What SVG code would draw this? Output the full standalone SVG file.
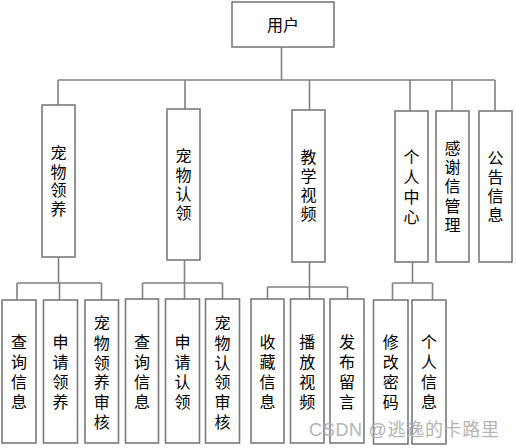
<svg xmlns="http://www.w3.org/2000/svg" width="516" height="448" viewBox="0 0 516 448">
<style>
.box{fill:#fff;stroke:#7a7a7a;stroke-width:1.6}
.ln{fill:none;stroke:#808080;stroke-width:1.6}
text{font-family:"Noto Sans CJK SC","Noto Sans",sans-serif;font-size:16px;fill:#000;text-anchor:middle}
.wm{font-family:"Liberation Sans","Noto Sans CJK SC",sans-serif;font-size:18px;fill:#b4b4b4;text-anchor:start}
</style>
<rect width="516" height="448" fill="#fff"/>
<g id="connectors">
<path class="ln" d="M281.5 47V80M58 80H495M58 80V105M185 80V109M309.5 80V110M410 80V111M452 80V111M495 80V111"/>
<path class="ln" d="M58.5 257V283M17 283H101.5M17 283V300M59.5 283V300M101.5 283V300"/>
<path class="ln" d="M184.5 260V283M142.5 283H222.5M142.5 283V299M184.5 283V299M222.5 283V299"/>
<path class="ln" d="M309.5 262V287M267.5 287H347.5M267.5 287V299M309.5 287V299M347.5 287V299"/>
<path class="ln" d="M412.5 262V283M392.5 283H432.5M392.5 283V300M432.5 283V300"/>
</g>
<g id="n-user"><rect class="box" x="232" y="2" width="102" height="45"/><text x="283" y="31">用户</text></g>
<g id="n-adopt"><rect class="box" x="42" y="105" width="33" height="152"/><text x="58.5"><tspan x="58.5" y="159">宠</tspan><tspan x="58.5" y="177.5">物</tspan><tspan x="58.5" y="196">领</tspan><tspan x="58.5" y="214.5">养</tspan></text></g>
<g id="n-claim"><rect class="box" x="167" y="109" width="33" height="151"/><text><tspan x="183.5" y="162">宠</tspan><tspan x="183.5" y="181">物</tspan><tspan x="183.5" y="200">认</tspan><tspan x="183.5" y="219">领</tspan></text></g>
<g id="n-video"><rect class="box" x="292" y="110" width="33" height="152"/><text><tspan x="308.5" y="163">教</tspan><tspan x="308.5" y="182">学</tspan><tspan x="308.5" y="201">视</tspan><tspan x="308.5" y="220">频</tspan></text></g>
<g id="n-center"><rect class="box" x="395" y="111" width="33" height="151"/><text><tspan x="411.5" y="162.5">个</tspan><tspan x="411.5" y="182.5">人</tspan><tspan x="411.5" y="202.5">中</tspan><tspan x="411.5" y="222.5">心</tspan></text></g>
<g id="n-thanks"><rect class="box" x="436" y="111" width="33" height="151"/><text><tspan x="452.5" y="154">感</tspan><tspan x="452.5" y="173.2">谢</tspan><tspan x="452.5" y="192.4">信</tspan><tspan x="452.5" y="211.6">管</tspan><tspan x="452.5" y="230.8">理</tspan></text></g>
<g id="n-notice"><rect class="box" x="479" y="111" width="33" height="151"/><text><tspan x="495.5" y="164">公</tspan><tspan x="495.5" y="183">告</tspan><tspan x="495.5" y="202">信</tspan><tspan x="495.5" y="221">息</tspan></text></g>

<g id="n-a1"><rect class="box" x="2" y="300" width="34" height="143"/><text><tspan x="19" y="348">查</tspan><tspan x="19" y="368">询</tspan><tspan x="19" y="388">信</tspan><tspan x="19" y="408">息</tspan></text></g>
<g id="n-a2"><rect class="box" x="43.5" y="300" width="34" height="143"/><text><tspan x="60.5" y="348">申</tspan><tspan x="60.5" y="368">请</tspan><tspan x="60.5" y="388">领</tspan><tspan x="60.5" y="408">养</tspan></text></g>
<g id="n-a3"><rect class="box" x="85" y="300" width="33.5" height="143"/><text><tspan x="101.7" y="329">宠</tspan><tspan x="101.7" y="348.8">物</tspan><tspan x="101.7" y="368.6">领</tspan><tspan x="101.7" y="388.4">养</tspan><tspan x="101.7" y="408.2">审</tspan><tspan x="101.7" y="428">核</tspan></text></g>

<g id="n-c1"><rect class="box" x="125.5" y="299" width="33" height="144"/><text><tspan x="142" y="348">查</tspan><tspan x="142" y="368">询</tspan><tspan x="142" y="388">信</tspan><tspan x="142" y="408">息</tspan></text></g>
<g id="n-c2"><rect class="box" x="165.5" y="299" width="34" height="144"/><text><tspan x="182.5" y="348">申</tspan><tspan x="182.5" y="368">请</tspan><tspan x="182.5" y="388">认</tspan><tspan x="182.5" y="408">领</tspan></text></g>
<g id="n-c3"><rect class="box" x="205.5" y="299" width="34" height="144"/><text><tspan x="222.5" y="329">宠</tspan><tspan x="222.5" y="348.8">物</tspan><tspan x="222.5" y="368.6">认</tspan><tspan x="222.5" y="388.4">领</tspan><tspan x="222.5" y="408.2">审</tspan><tspan x="222.5" y="428">核</tspan></text></g>

<g id="n-v1"><rect class="box" x="251" y="299" width="33" height="144"/><text><tspan x="267.5" y="348">收</tspan><tspan x="267.5" y="368">藏</tspan><tspan x="267.5" y="388">信</tspan><tspan x="267.5" y="408">息</tspan></text></g>
<g id="n-v2"><rect class="box" x="290.5" y="299" width="33.5" height="144"/><text><tspan x="307.3" y="348">播</tspan><tspan x="307.3" y="368">放</tspan><tspan x="307.3" y="388">视</tspan><tspan x="307.3" y="408">频</tspan></text></g>
<g id="n-v3"><rect class="box" x="330" y="299" width="34" height="144"/><text><tspan x="347" y="348">发</tspan><tspan x="347" y="368">布</tspan><tspan x="347" y="388">留</tspan><tspan x="347" y="408">言</tspan></text></g>

<g id="n-p1"><rect class="box" x="373.5" y="300" width="34.5" height="144"/><text><tspan x="390.7" y="348">修</tspan><tspan x="390.7" y="368">改</tspan><tspan x="390.7" y="388">密</tspan><tspan x="390.7" y="408">码</tspan></text></g>
<g id="n-p2"><rect class="box" x="412" y="300" width="34" height="144"/><text><tspan x="429" y="348">个</tspan><tspan x="429" y="368">人</tspan><tspan x="429" y="388">信</tspan><tspan x="429" y="408">息</tspan></text></g>

<text class="wm" x="309" y="436" textLength="190">CSDN @逃逸的卡路里</text>
</svg>
